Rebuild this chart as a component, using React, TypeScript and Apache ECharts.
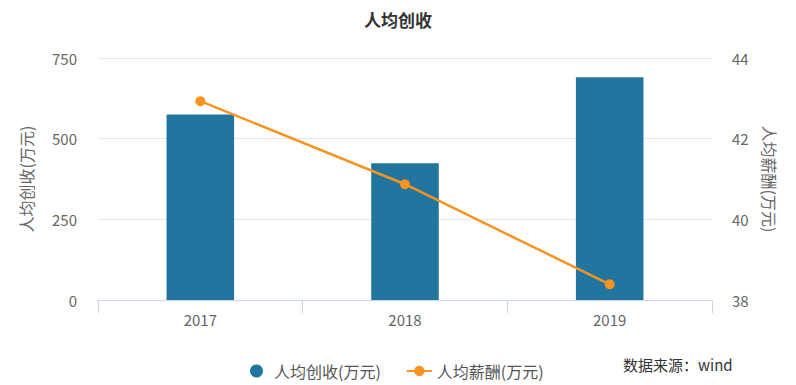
import React, { useEffect, useRef } from "react";
import * as echarts from "echarts";

const categories = ["2017", "2018", "2019"];
const revenuePerCapita = [575, 424, 690];
const salaryPerCapita = [42.93, 40.87, 38.39];
const leftTicks = { min: 0, max: 750, interval: 250 };
const rightTicks = { min: 38, max: 44, interval: 2 };
const titleText = "人均创收";
const barName = "人均创收(万元)";
const lineName = "人均薪酬(万元)";
const sourceText = "数据来源：wind";

const FONT = '"Noto Sans CJK SC", "Noto Sans", sans-serif';

export default function App() {
  const ref = useRef<HTMLDivElement>(null);
  useEffect(() => {
    if (!ref.current) return;
    const chart = echarts.init(ref.current, null, { renderer: "svg" });
    chart.setOption({
      animation: false,
      backgroundColor: "#ffffff",
      textStyle: { fontFamily: FONT },
      title: {
        text: titleText,
        left: "center",
        top: 6,
        textStyle: { fontSize: 17, fontWeight: "bold", color: "#333333", fontFamily: FONT },
      },
      legend: {
        left: 245,
        top: 358,
        itemGap: 25,
        itemWidth: 25,
        itemHeight: 13,
        textStyle: { fontSize: 16, color: "#555555", fontFamily: FONT },
        data: [
          { name: barName, icon: "circle" },
          { name: lineName },
        ],
      },
      grid: { left: 98, right: 84, top: 58, bottom: 85 },
      xAxis: {
        type: "category",
        data: categories,
        boundaryGap: true,
        axisLine: { show: true, lineStyle: { color: "#ccd6eb", width: 1 } },
        axisTick: { show: true, length: 13, lineStyle: { color: "#ccd6eb" } },
        axisLabel: { color: "#666666", fontSize: 15, margin: 12, fontFamily: FONT },
      },
      yAxis: [
        {
          type: "value",
          min: leftTicks.min,
          max: leftTicks.max,
          interval: leftTicks.interval,
          name: barName,
          nameLocation: "middle",
          nameGap: 64,
          nameTextStyle: { color: "#666666", fontSize: 16, fontFamily: FONT },
          axisLine: { show: false },
          axisTick: { show: false },
          axisLabel: { color: "#666666", fontSize: 15, margin: 21, fontFamily: FONT },
          splitLine: { show: true, lineStyle: { color: "#e6e6e6" } },
        },
        {
          type: "value",
          min: rightTicks.min,
          max: rightTicks.max,
          interval: rightTicks.interval,
          name: lineName,
          nameLocation: "middle",
          nameRotate: -90,
          nameGap: 50,
          nameTextStyle: { color: "#666666", fontSize: 16, fontFamily: FONT },
          axisLine: { show: false },
          axisTick: { show: false },
          axisLabel: { color: "#666666", fontSize: 15, margin: 20, fontFamily: FONT },
          splitLine: { show: false },
        },
      ],
      series: [
        {
          name: barName,
          type: "bar",
          yAxisIndex: 0,
          data: revenuePerCapita,
          barWidth: "33%",
          itemStyle: { color: "#21759f" },
        },
        {
          name: lineName,
          type: "line",
          yAxisIndex: 1,
          data: salaryPerCapita,
          symbol: "circle",
          symbolSize: 10,
          lineStyle: { color: "#f7931e", width: 2.5 },
          itemStyle: { color: "#f7931e" },
        },
      ],
      graphic: [
        {
          type: "text",
          left: 623,
          top: 357,
          style: { text: sourceText, fontSize: 15, fill: "#333333", fontFamily: FONT },
        },
      ],
    });
    return () => chart.dispose();
  }, []);
  return <div ref={ref} style={{ width: 796, height: 385, position: "absolute", left: 0, top: 0 }} />;
}
